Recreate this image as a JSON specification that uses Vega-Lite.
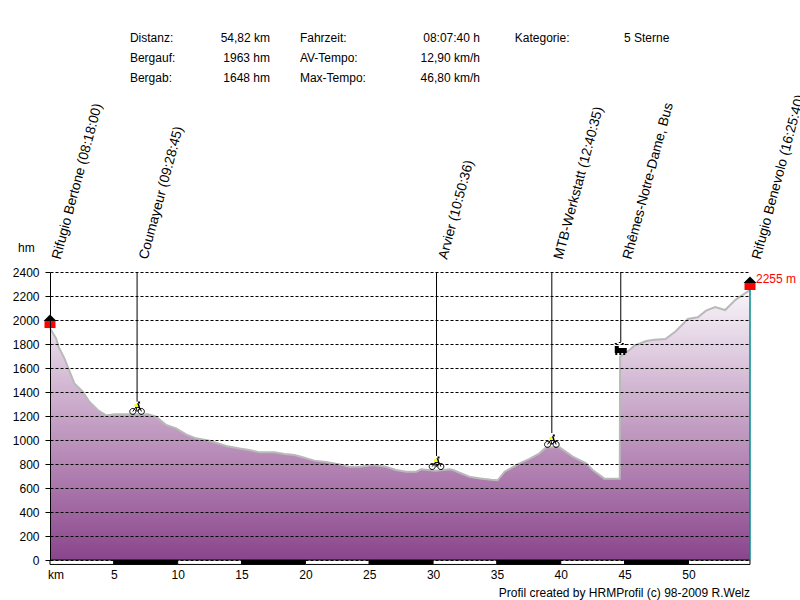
{
"$schema":"https://vega.github.io/schema/vega-lite/v6.json",
"width":700,"height":288,
"autosize":{"type":"none"},
"padding":{"left":50,"top":272,"right":50,"bottom":40},
"background":"white",
"config":{"view":{"stroke":null},"text":{"font":"Liberation Sans","fontSize":12,"color":"black"}},
"datasets":{
"profile":[
{"km":0,"elev":1931},{"km":0.48,"elev":1847},{"km":0.69,"elev":1772},{"km":1.13,"elev":1680},{"km":1.44,"elev":1597},{"km":1.91,"elev":1472},{"km":2.56,"elev":1403},{"km":3.08,"elev":1319},{"km":3.74,"elev":1250},{"km":4.4,"elev":1205},{"km":5.05,"elev":1214},{"km":6.48,"elev":1214},{"km":7.66,"elev":1214},{"km":8.31,"elev":1194},{"km":9.1,"elev":1125},{"km":9.88,"elev":1097},{"km":10.66,"elev":1047},{"km":11.44,"elev":1014},{"km":12.5,"elev":994},{"km":13.8,"elev":950},{"km":14.84,"elev":930},{"km":15.6,"elev":917},{"km":16.4,"elev":897},{"km":17.58,"elev":897},{"km":18.36,"elev":883},{"km":19.15,"elev":875},{"km":19.8,"elev":856},{"km":20.7,"elev":828},{"km":21.6,"elev":817},{"km":22.7,"elev":797},{"km":23.45,"elev":778},{"km":24.2,"elev":778},{"km":25.3,"elev":792},{"km":26.3,"elev":778},{"km":27.1,"elev":750},{"km":27.9,"elev":736},{"km":28.67,"elev":736},{"km":29.07,"elev":756},{"km":30.2,"elev":744},{"km":31.3,"elev":756},{"km":31.55,"elev":750},{"km":32.85,"elev":694},{"km":33.7,"elev":680},{"km":34.55,"elev":668},{"km":35.05,"elev":664},{"km":35.6,"elev":736},{"km":36.77,"elev":805},{"km":37.55,"elev":842},{"km":38.33,"elev":889},{"km":38.86,"elev":939},{"km":39.9,"elev":939},{"km":40.94,"elev":861},{"km":41.99,"elev":805},{"km":42.5,"elev":750},{"km":43.42,"elev":678},{"km":44.62,"elev":678},{"km":44.65,"elev":1694},{"km":45.38,"elev":1750},{"km":45.77,"elev":1786},{"km":46.69,"elev":1825},{"km":47.34,"elev":1836},{"km":48.2,"elev":1842},{"km":49.03,"elev":1908},{"km":49.95,"elev":2008},{"km":50.73,"elev":2022},{"km":51.38,"elev":2078},{"km":52.09,"elev":2108},{"km":52.87,"elev":2083},{"km":53.73,"elev":2172},{"km":54.82,"elev":2250}
],
"band":[
{"km":0,"km2":5,"elev":0,"below":-37,"shade":"light"},{"km":5,"km2":10,"elev":0,"below":-37,"shade":"dark"},{"km":10,"km2":15,"elev":0,"below":-37,"shade":"light"},{"km":15,"km2":20,"elev":0,"below":-37,"shade":"dark"},{"km":20,"km2":25,"elev":0,"below":-37,"shade":"light"},{"km":25,"km2":30,"elev":0,"below":-37,"shade":"dark"},{"km":30,"km2":35,"elev":0,"below":-37,"shade":"light"},{"km":35,"km2":40,"elev":0,"below":-37,"shade":"dark"},{"km":40,"km2":45,"elev":0,"below":-37,"shade":"light"},{"km":45,"km2":50,"elev":0,"below":-37,"shade":"dark"},{"km":50,"km2":54.82,"elev":0,"below":-37,"shade":"light"}
],
"events":[
{"km":6.82,"elev":1267,"ruleEnd":1319,"top":2400,"icon":"bike"},
{"km":30.27,"elev":808,"ruleEnd":867,"top":2400,"icon":"bike"},
{"km":39.3,"elev":992,"ruleEnd":1058,"top":2400,"icon":"bike"},
{"km":44.7,"elev":1758,"ruleEnd":1817,"top":2400,"icon":"train"}
],
"huts":[{"km":0,"elev":1933},{"km":54.82,"elev":2250}],
"finish":[{"km":54.82,"elev":2250,"top":0,"label":"2255 m"}],
"placeLabels":[
{"km":0,"elev":2500,"label":"Rifugio Bertone (08:18:00)"},
{"km":6.82,"elev":2500,"label":"Coumayeur (09:28:45)"},
{"km":30.27,"elev":2500,"label":"Arvier (10:50:36)"},
{"km":39.3,"elev":2500,"label":"MTB-Werkstatt (12:40:35)"},
{"km":44.7,"elev":2500,"label":"Rhêmes-Notre-Dame, Bus"},
{"km":54.82,"elev":2500,"label":"Rifugio Benevolo (16:25:40)"}
],
"notes":[
{"km":6.26,"elev":4350,"label":"Distanz:","side":"left"},
{"km":6.26,"elev":4184,"label":"Bergauf:","side":"left"},
{"km":6.26,"elev":4017,"label":"Bergab:","side":"left"},
{"km":17.23,"elev":4350,"label":"54,82 km","side":"right"},
{"km":17.23,"elev":4184,"label":"1963 hm","side":"right"},
{"km":17.23,"elev":4017,"label":"1648 hm","side":"right"},
{"km":19.57,"elev":4350,"label":"Fahrzeit:","side":"left"},
{"km":19.57,"elev":4184,"label":"AV-Tempo:","side":"left"},
{"km":19.57,"elev":4017,"label":"Max-Tempo:","side":"left"},
{"km":33.67,"elev":4350,"label":"08:07:40 h","side":"right"},
{"km":33.67,"elev":4184,"label":"12,90 km/h","side":"right"},
{"km":33.67,"elev":4017,"label":"46,80 km/h","side":"right"},
{"km":36.4,"elev":4350,"label":"Kategorie:","side":"left"},
{"km":44.95,"elev":4350,"label":"5 Sterne","side":"left"},
{"km":-2.5,"elev":2600,"label":"hm","side":"left"},
{"km":-0.16,"elev":-125,"label":"km","side":"left"},
{"km":54.82,"elev":-275,"label":"Profil created by HRMProfil (c) 98-2009 R.Welz","side":"right"}
]
},
"encoding":{
"x":{"field":"km","type":"quantitative","title":null,"scale":{"domain":[0,54.82],"nice":false,"zero":false},
"axis":{"values":[5,10,15,20,25,30,35,40,45,50],"domain":false,"ticks":false,"grid":false,"labelPadding":9,"labelFont":"Liberation Sans","labelFontSize":12,"labelColor":"black","labelFlush":false,"labelOverlap":false,"zindex":1}},
"y":{"field":"elev","type":"quantitative","title":null,"scale":{"domain":[0,2400],"nice":false,"zero":false},
"axis":{"values":[0,200,400,600,800,1000,1200,1400,1600,1800,2000,2200,2400],"format":"d","domain":true,"domainColor":"black","ticks":true,"tickColor":"black","tickSize":5,"grid":true,"gridColor":"black","gridOpacity":1,"gridDash":[3,2],"labelPadding":6,"labelFont":"Liberation Sans","labelFontSize":12,"labelColor":"black","labelOverlap":false,"labelFlush":false,"zindex":1}}
},
"layer":[
{"data":{"name":"profile"},"mark":{"type":"area","interpolate":"linear","fill":{"gradient":"linear","x1":0,"y1":0,"x2":0,"y2":1,"stops":[{"offset":0,"color":"#f8f5f9"},{"offset":0.7,"color":"#ad7bae"},{"offset":1,"color":"#8a458c"}]}}},
{"data":{"name":"profile"},"mark":{"type":"line","interpolate":"linear","color":"#b9b9b9","strokeWidth":2}},
{"data":{"name":"band"},"mark":{"type":"rect","stroke":"black","strokeWidth":1},"encoding":{"x2":{"field":"km2"},"y2":{"field":"below"},"color":{"field":"shade","type":"nominal","legend":null,"scale":{"domain":["light","dark"],"range":["white","black"]}}}},
{"data":{"name":"events"},"mark":{"type":"rule","color":"black","strokeWidth":1},"encoding":{"y":{"field":"ruleEnd","type":"quantitative"},"y2":{"field":"top"}}},
{"data":{"name":"finish"},"mark":{"type":"rule","color":"#008b8b","strokeWidth":1.5},"encoding":{"y2":{"field":"top"}}},
{"data":{"name":"events"},"transform":[{"filter":"datum.icon==='bike'"}],"mark":{"type":"point","filled":false,"opacity":1,"size":4,"stroke":"black","strokeWidth":1,"shape":"M-1.3,3.5a3,3 0 1,0 -6,0a3,3 0 1,0 6,0ZM7.3,3.5a3,3 0 1,0 -6,0a3,3 0 1,0 6,0ZM-4.3,3.5L-1,-1L3,0L4.3,3.5M-1,-1L0,3.5L3,0"}},
{"data":{"name":"events"},"transform":[{"filter":"datum.icon==='bike'"}],"mark":{"type":"point","filled":true,"opacity":1,"size":4,"fill":"#ffff00","strokeWidth":0,"shape":"M-3,-3L0,-5L1,-1L-2,-1Z"}},
{"data":{"name":"events"},"transform":[{"filter":"datum.icon==='bike'"}],"mark":{"type":"point","filled":true,"opacity":1,"size":4,"fill":"black","strokeWidth":0,"shape":"M1,-6.5h2v2h-2ZM0,-5L2,-4L3,0L2,1L1,-2Z"}},
{"data":{"name":"events"},"transform":[{"filter":"datum.icon==='train'"}],"mark":{"type":"point","filled":true,"opacity":1,"size":4,"fill":"black","strokeWidth":0,"shape":"M-6,-3H-2V-1H6V4H4.5V6H2.5V4H0.5V6H-1.5V4H-3.5V6H-5.5V4H-6ZM-6,-6h2v1h-2ZM-2,-7h2v1h-2ZM1,-6h2v1h-2ZM4,-5h2v1h-2Z"}},
{"data":{"name":"huts"},"mark":{"type":"point","filled":true,"opacity":1,"size":4,"fill":"#ff0000","strokeWidth":0,"shape":"M-5.5,-7H5.5V0H-5.5Z"}},
{"data":{"name":"huts"},"mark":{"type":"point","filled":true,"opacity":1,"size":4,"fill":"black","strokeWidth":0,"shape":"M-6.5,-7L0,-13.5L6.5,-7Z"}},
{"data":{"name":"finish"},"mark":{"type":"text","align":"left","baseline":"middle","dx":6,"dy":-11,"color":"#ff0000","fontSize":12},"encoding":{"text":{"field":"label"}}},
{"data":{"name":"placeLabels"},"mark":{"type":"text","align":"left","baseline":"alphabetic","angle":-75,"dx":2.7,"dy":10.1,"fontSize":13.7,"color":"black"},"encoding":{"text":{"field":"label"}}},
{"data":{"name":"notes"},"transform":[{"filter":"datum.side==='left'"}],"mark":{"type":"text","align":"left","baseline":"middle"},"encoding":{"text":{"field":"label"}}},
{"data":{"name":"notes"},"transform":[{"filter":"datum.side==='right'"}],"mark":{"type":"text","align":"right","baseline":"middle"},"encoding":{"text":{"field":"label"}}}
]
}
